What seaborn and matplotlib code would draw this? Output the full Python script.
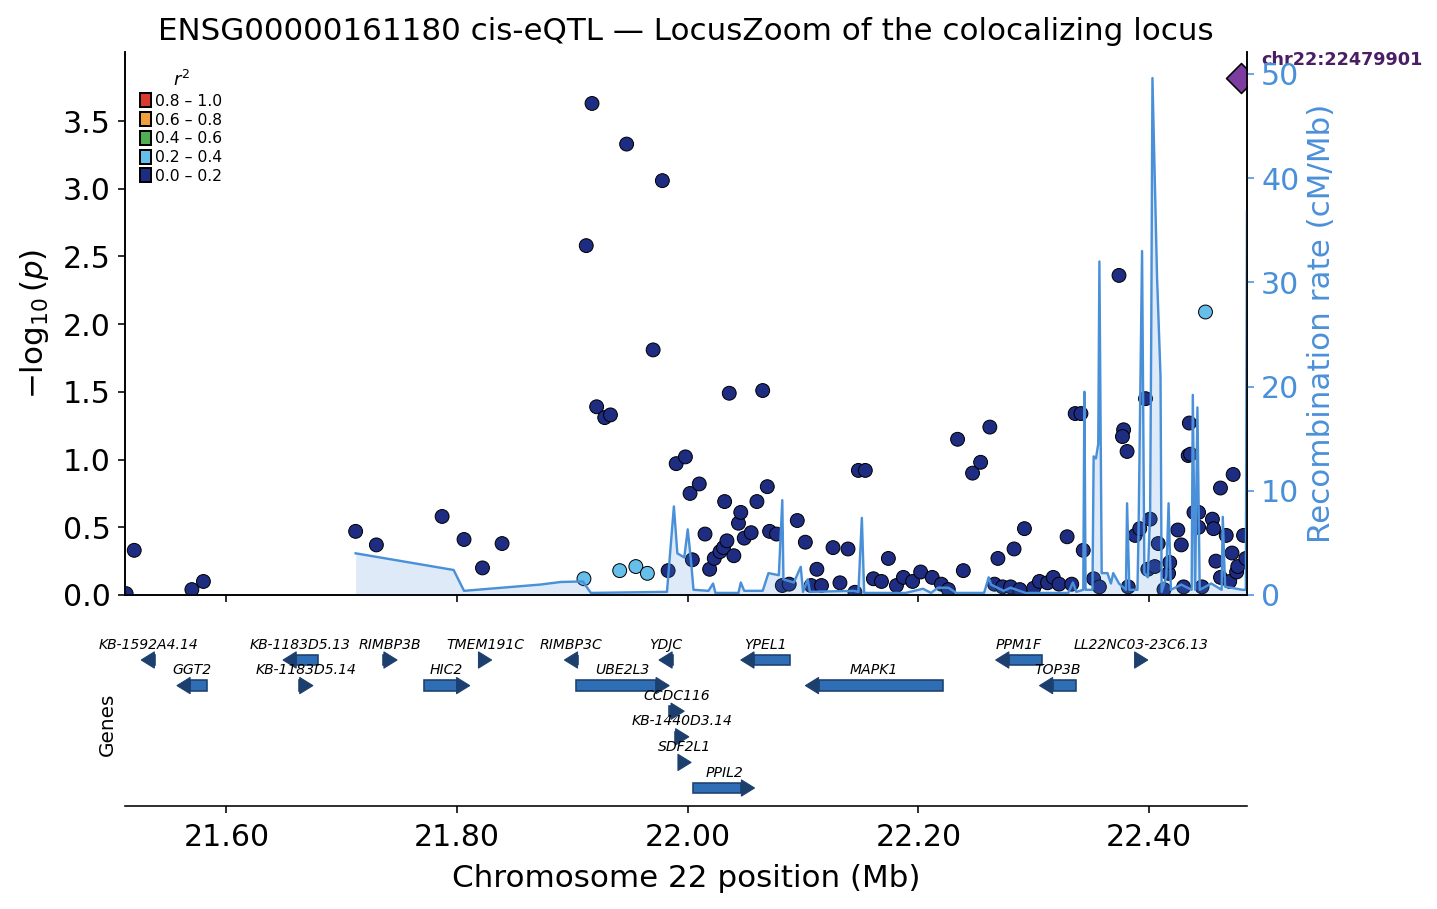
import numpy as np
import pandas as pd
import matplotlib
matplotlib.use("Agg")
import matplotlib.pyplot as plt
from matplotlib.patches import Patch, Rectangle, Polygon
import seaborn as sns

# ---- data ----
# variants with r2 0.0-0.2 (position in Mb, -log10 p)
low_pos = [21.513, 21.520, 21.570, 21.580, 21.712, 21.730, 21.787, 21.806, 21.822, 21.839,
           21.917, 21.947, 21.978, 21.912, 21.970, 21.921, 21.928, 21.933, 22.036, 22.065,
           21.983, 21.990, 21.998, 22.002, 22.010, 22.004, 22.015, 22.019, 22.023, 22.028,
           22.031, 22.034, 22.032, 22.040, 22.044, 22.046, 22.049, 22.055, 22.060, 22.069,
           22.071, 22.077, 22.082, 22.088, 22.095, 22.102, 22.107, 22.112, 22.116, 22.126,
           22.132, 22.139, 22.145, 22.148, 22.154, 22.161, 22.168, 22.174, 22.181, 22.187,
           22.195, 22.202, 22.212, 22.220, 22.226, 22.234, 22.239, 22.247, 22.254, 22.262,
           22.266, 22.269, 22.273, 22.280, 22.283, 22.288, 22.292, 22.300, 22.305, 22.312,
           22.317, 22.322, 22.329, 22.333, 22.336, 22.341, 22.343, 22.352, 22.357, 22.374,
           22.378, 22.377, 22.381, 22.382, 22.388, 22.392, 22.397, 22.401, 22.408, 22.399,
           22.405, 22.413, 22.417, 22.418, 22.425, 22.428, 22.430, 22.435, 22.434, 22.436,
           22.439, 22.443, 22.443, 22.446, 22.455, 22.456, 22.458, 22.462, 22.462, 22.467,
           22.470, 22.472, 22.473, 22.476, 22.477, 22.482, 22.484]
low_logp = [0.01, 0.33, 0.04, 0.10, 0.47, 0.37, 0.58, 0.41, 0.20, 0.38,
            3.63, 3.33, 3.06, 2.58, 1.81, 1.39, 1.31, 1.33, 1.49, 1.51,
            0.18, 0.97, 1.02, 0.75, 0.82, 0.26, 0.45, 0.19, 0.27, 0.32,
            0.35, 0.40, 0.69, 0.29, 0.53, 0.61, 0.42, 0.46, 0.69, 0.80,
            0.47, 0.45, 0.07, 0.08, 0.55, 0.39, 0.07, 0.19, 0.07, 0.35,
            0.09, 0.34, 0.02, 0.92, 0.92, 0.12, 0.10, 0.27, 0.07, 0.13,
            0.10, 0.17, 0.13, 0.08, 0.04, 1.15, 0.18, 0.90, 0.98, 1.24,
            0.08, 0.27, 0.06, 0.06, 0.34, 0.04, 0.49, 0.05, 0.10, 0.09,
            0.13, 0.08, 0.43, 0.08, 1.34, 1.34, 0.33, 0.12, 0.06, 2.36,
            1.22, 1.17, 1.06, 0.06, 0.44, 0.49, 1.45, 0.56, 0.38, 0.19,
            0.21, 0.04, 0.16, 0.24, 0.48, 0.37, 0.06, 1.27, 1.03, 1.04,
            0.61, 0.61, 0.50, 0.06, 0.56, 0.49, 0.25, 0.79, 0.13, 0.44,
            0.10, 0.31, 0.89, 0.17, 0.21, 0.44, 0.27]

# variants with r2 0.2-0.4
mid_pos = [21.910, 21.941, 21.955, 21.965, 22.449]
mid_logp = [0.12, 0.18, 0.21, 0.16, 2.09]

# lead variant
lead_pos = 22.479901
lead_logp = 3.82
lead_name = "chr22:22479901"

# recombination rate (cM/Mb)
rec_pos = [21.712, 21.797, 21.806, 21.872, 21.890, 21.909, 21.916, 21.982, 21.988, 21.991,
           21.997, 22.000, 22.003, 22.005, 22.018, 22.022, 22.024, 22.044, 22.046, 22.049,
           22.065, 22.070, 22.079, 22.082, 22.083, 22.092, 22.098, 22.100, 22.104, 22.106,
           22.144, 22.148, 22.151, 22.153, 22.189, 22.204, 22.211, 22.217, 22.226, 22.233,
           22.257, 22.261, 22.263, 22.274, 22.280, 22.293, 22.306, 22.330, 22.334, 22.337,
           22.343, 22.344, 22.345, 22.351, 22.352, 22.354, 22.356, 22.357, 22.359, 22.364,
           22.367, 22.369, 22.374, 22.380, 22.381, 22.383, 22.390, 22.391, 22.394, 22.396,
           22.399, 22.401, 22.402, 22.403, 22.407, 22.410, 22.411, 22.415, 22.417, 22.419,
           22.428, 22.437, 22.438, 22.440, 22.442, 22.444, 22.454, 22.463, 22.464, 22.466,
           22.481, 22.484, 22.485]
rec_rate = [4.0, 2.4, 0.4, 1.0, 1.25, 1.3, 0.2, 0.3, 8.5, 4.0,
            3.6, 6.3, 3.1, 0.5, 0.4, 1.1, 0.2, 0.2, 1.2, 0.4,
            0.4, 2.1, 1.9, 9.1, 1.5, 1.2, 2.7, 0.3, 1.5, 0.3,
            0.4, 0.3, 7.4, 0.2, 0.2, 0.6, 0.2, 0.7, 0.7, 0.2,
            0.2, 1.7, 1.0, 0.4, 0.7, 0.2, 0.2, 0.2, 1.2, 0.3,
            0.5, 19.5, 0.5, 0.5, 13.3, 13.1, 14.5, 32.0, 2.1, 2.1,
            1.1, 2.1, 1.1, 0.5, 8.8, 0.5, 0.5, 6.5, 33.0, 2.1,
            1.7, 8.0, 26.0, 49.6, 30.5, 21.0, 0.3, 1.8, 8.8, 0.5,
            1.0, 0.5, 19.2, 0.5, 18.0, 0.5, 1.1, 0.5, 7.5, 0.8,
            0.5, 0.5, 36.8]

# genes: name, start, end (Mb), strand, track row
gene_names = ["KB-1592A4.14", "GGT2", "KB-1183D5.13", "KB-1183D5.14", "RIMBP3B", "HIC2",
              "TMEM191C", "RIMBP3C", "UBE2L3", "YDJC", "CCDC116", "KB-1440D3.14", "SDF2L1",
              "PPIL2", "YPEL1", "MAPK1", "PPM1F", "TOP3B", "LL22NC03-23C6.13"]
gene_start = [21.526, 21.557, 21.649, 21.663, 21.736, 21.771, 21.819, 21.893, 21.903, 21.975,
              21.984, 21.989, 21.992, 22.005, 22.046, 22.102, 22.267, 22.305, 22.388]
gene_end = [21.538, 21.583, 21.679, 21.675, 21.748, 21.811, 21.830, 21.905, 21.984, 21.987,
            21.997, 22.001, 22.003, 22.058, 22.089, 22.221, 22.307, 22.337, 22.399]
gene_strand = ["-", "-", "-", "+", "+", "+", "+", "-", "+", "-",
               "+", "+", "+", "+", "-", "-", "-", "-", "+"]
gene_row = [0, 1, 0, 1, 0, 1, 0, 0, 1, 0, 2, 3, 4, 5, 0, 1, 0, 1, 0]

r2_labels = ["0.8 – 1.0", "0.6 – 0.8", "0.4 – 0.6", "0.2 – 0.4", "0.0 – 0.2"]
r2_colors = ["#dc3a2e", "#f2a03c", "#50af50", "#66bfeb", "#1e2d82"]

rec_color = "#4a90d9"
lead_color = "#7d3ca0"

plt.rcParams["font.family"] = ["DejaVu Sans"]

df = pd.DataFrame({
    "pos": low_pos + mid_pos,
    "logp": low_logp + mid_logp,
    "r2": ["0.0 – 0.2"] * len(low_pos) + ["0.2 – 0.4"] * len(mid_pos),
})
rec = pd.DataFrame({"pos": rec_pos, "rate": rec_rate})

W, H = 1437, 909
fig = plt.figure(figsize=(W / 144, H / 144), dpi=144)
ax = fig.add_axes([125 / W, (H - 595) / H, 1122 / W, 543 / H])
gax = fig.add_axes([125 / W, (H - 806) / H, 1122 / W, 164 / H], sharex=ax)

# association scatter
sns.scatterplot(data=df, x="pos", y="logp", hue="r2", palette=dict(zip(r2_labels, r2_colors)),
                s=48, edgecolor="black", linewidth=0.5, legend=False, ax=ax, zorder=3)
sns.scatterplot(x=[lead_pos], y=[lead_logp], marker="D", s=112, color=lead_color,
                edgecolor="black", linewidth=0.8, ax=ax, zorder=4)
ax.annotate(lead_name, (lead_pos, lead_logp), xytext=(10, 9), textcoords="offset points",
            ha="left", va="center", fontsize=8.8, fontweight="bold", color="#4b1e64",
            annotation_clip=False)

ax.set_xlim(21.512, 22.485)
ax.set_ylim(0, 4.01)
ax.set_yticks(np.arange(0, 4.0, 0.5))
ax.set_ylabel(r"$-\log_{10}(p)$", fontsize=15.5, labelpad=6)
ax.set_xlabel("")
ax.tick_params(axis="y", labelsize=15)
ax.tick_params(axis="x", labelbottom=False)
ax.spines["top"].set_visible(False)
ax.set_title("ENSG00000161180 cis-eQTL — LocusZoom of the colocalizing locus", fontsize=15.5)

handles = [Patch(facecolor=c, edgecolor="black", label=l) for l, c in zip(r2_labels, r2_colors)]
ax.legend(handles=handles, title=r"$r^2$", loc="upper left", bbox_to_anchor=(0.002, 0.99),
          fontsize=7.8, title_fontsize=9, frameon=False, handlelength=0.7, handleheight=1.0,
          handletextpad=0.3, labelspacing=0.22, borderaxespad=0.4)

# recombination rate on twin axis
ax2 = ax.twinx()
sns.lineplot(data=rec, x="pos", y="rate", estimator=None, color=rec_color, linewidth=1.2, ax=ax2)
ax2.fill_between(rec["pos"], rec["rate"], color=rec_color, alpha=0.18, linewidth=0)
ax2.set_ylim(0, 52.1)
ax2.set_yticks([0, 10, 20, 30, 40, 50])
ax2.set_ylabel("Recombination rate (cM/Mb)", color=rec_color, fontsize=15.5)
ax2.tick_params(axis="y", colors=rec_color, labelsize=15)
ax2.set_xlabel("")
ax2.spines["top"].set_visible(False)

# gene track
head = 0.0115
for name, st, en, sd, row in zip(gene_names, gene_start, gene_end, gene_strand, gene_row):
    y = -(row + 1)
    if sd == "+":
        if en - head > st:
            gax.add_patch(Rectangle((st, y - 0.2), en - head - st, 0.4,
                                    facecolor="#2f6db4", edgecolor="#1c3f6e", linewidth=0.8))
        tri = [(en - head, y - 0.32), (en - head, y + 0.32), (en, y)]
    else:
        if st + head < en:
            gax.add_patch(Rectangle((st + head, y - 0.2), en - st - head, 0.4,
                                    facecolor="#2f6db4", edgecolor="#1c3f6e", linewidth=0.8))
        tri = [(st + head, y - 0.32), (st + head, y + 0.32), (st, y)]
    gax.add_patch(Polygon(tri, closed=True, facecolor="#1c3f6e", edgecolor="#1c3f6e", linewidth=0.5))
    gax.text((st + en) / 2, y + 0.6, name, ha="center", va="center", fontsize=7, style="italic")

gax.set_ylim(-6.703, -0.297)
gax.set_yticks([])
gax.set_ylabel("Genes", fontsize=10)
for s in ["top", "left", "right"]:
    gax.spines[s].set_visible(False)
gax.set_xticks([21.6, 21.8, 22.0, 22.2, 22.4])
gax.set_xticklabels([f"{t:.2f}" for t in [21.6, 21.8, 22.0, 22.2, 22.4]])
gax.tick_params(axis="x", labelsize=15, pad=5)
gax.set_xlabel("Chromosome 22 position (Mb)", fontsize=15.5, labelpad=6)
gax.set_xlim(21.512, 22.485)

fig.savefig("out.png", dpi=144)
